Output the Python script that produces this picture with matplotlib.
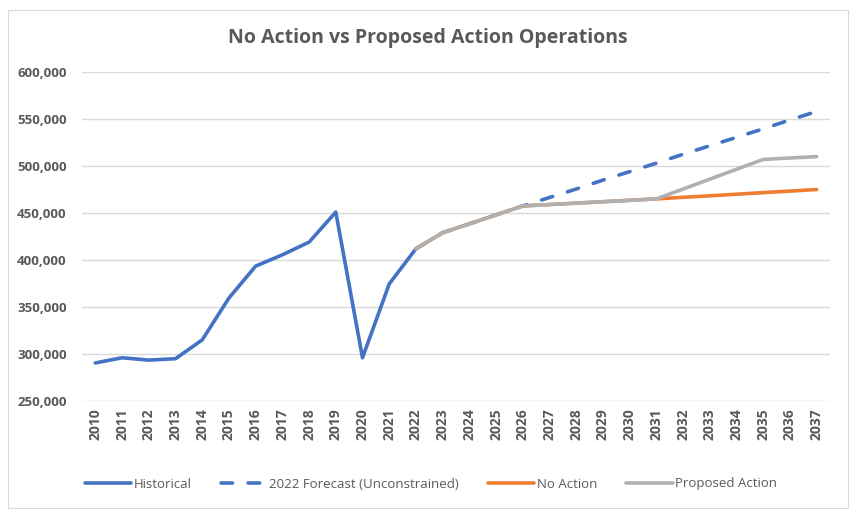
import matplotlib
matplotlib.use("Agg")
import matplotlib.pyplot as plt
from matplotlib.patches import Rectangle
from matplotlib.ticker import FuncFormatter

years = list(range(2010, 2038))

hist_years = list(range(2010, 2023))
historical = [290500, 296000, 293500, 295000, 315000, 359500, 393500, 405500, 419000, 451000, 296000, 374500, 412000]

fc_years = list(range(2022, 2038))
forecast = [412000, 429000, 438500, 448000, 457500, 466500, 475500, 485000, 494000, 503000, 512500, 521500, 530500, 539500, 549000, 558000]

na_years = list(range(2022, 2038))
no_action = [412000, 429000, 438500, 448000, 457500, 459000, 460500, 462000, 463500, 465000, 466700, 468300, 470000, 471700, 473300, 475000]

pa_years = list(range(2022, 2038))
proposed = [412000, 429000, 438500, 448000, 457500, 459000, 460500, 462000, 463500, 465000, 475500, 486000, 496500, 507000, 508500, 510000]

yticks = [250000, 300000, 350000, 400000, 450000, 500000, 550000, 600000]

TXT = "#595959"
FONT = ["Open Sans", "DejaVu Sans"]
plt.rcParams["font.family"] = FONT

fig = plt.figure(figsize=(8.57, 5.16), dpi=100)
fig.patches.append(Rectangle((8/857, 1-508/516), 840/857, 498/516, transform=fig.transFigure,
                             fill=False, edgecolor="#D9D9D9", linewidth=0.8))

ax = fig.add_axes([82/857, 1-401/516, 748/857, 329/516])
lw = 2.6
ax.plot(hist_years, historical, color="#4472C4", lw=lw, solid_capstyle="round", solid_joinstyle="round", label="Historical", zorder=3)
ax.plot(fc_years, forecast, color="#4472C4", lw=lw, dashes=(3.2, 4.3), dash_capstyle="round", label="2022 Forecast (Unconstrained)", zorder=3)
ax.plot(na_years, no_action, color="#ED7D31", lw=lw, solid_capstyle="round", solid_joinstyle="round", label="No Action", zorder=4)
ax.plot(pa_years, proposed, color="#B0B0B0", lw=lw, solid_capstyle="round", solid_joinstyle="round", label="Proposed Action", zorder=5)

ax.set_xlim(2009.5, 2037.5)
ax.set_ylim(250000, 600000)
ax.set_yticks(yticks)
ax.yaxis.set_major_formatter(FuncFormatter(lambda v, p: f"{int(v):,}"))
ax.set_xticks(years)
ax.set_xticklabels([str(y) for y in years], rotation=90, fontsize=10, fontweight="bold", color=TXT)
for lab in ax.get_yticklabels():
    lab.set_fontsize(9.5)
    lab.set_fontweight("bold")
    lab.set_color(TXT)
ax.tick_params(axis="both", length=0)
ax.tick_params(axis="y", pad=11)
ax.tick_params(axis="x", pad=5)
ax.grid(axis="y", color="#D9D9D9", linewidth=1)
ax.set_axisbelow(True)
for s in ax.spines.values():
    s.set_visible(False)

fig.text(428/857, 1-38/516, "No Action vs Proposed Action Operations", ha="center", va="center",
         fontsize=14, fontweight="bold", color=TXT)

fig.legend(loc="center", bbox_to_anchor=(431/857, 1-484/516), ncol=4, frameon=False,
           fontsize=9.5, labelcolor=TXT, handlelength=3.5, handletextpad=0.2, columnspacing=2.2)

fig.savefig("out.png", dpi=100)
